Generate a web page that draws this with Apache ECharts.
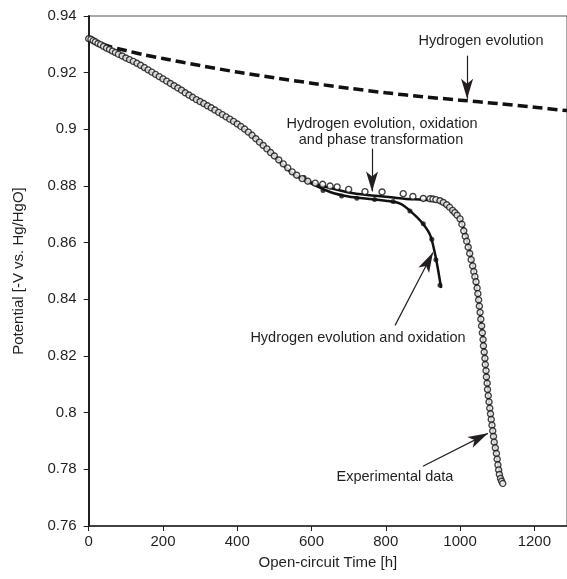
<!DOCTYPE html>
<html><head><meta charset="utf-8">
<script src="https://cdn.jsdelivr.net/npm/echarts@6/dist/echarts.min.js"></script>
<style>html,body{margin:0;padding:0;background:#fff}#c{width:567px;height:579px}</style>
</head><body><div id="c"></div>
<script>
// Hydrogen evolution model (dashed)
const hydT = [0, 50, 100, 150, 200, 300, 400, 500, 600, 700, 800, 900, 1000, 1100, 1200, 1288];
const hydV = [0.932, 0.9295, 0.9278, 0.9263, 0.9250, 0.9225, 0.9202, 0.9182, 0.9163, 0.9145, 0.9129, 0.9115, 0.9103, 0.9091, 0.9078, 0.9066];
// Model: hydrogen evolution, oxidation and phase transformation (solid)
const modAT = [0, 100, 200, 300, 400, 450, 500, 550, 600, 650, 700, 750, 800, 850, 900, 940, 960, 980, 1000, 1020, 1040, 1060, 1080, 1100, 1115];
const modAV = [0.932, 0.9252, 0.9178, 0.9098, 0.9019, 0.8967, 0.8906, 0.8844, 0.8812, 0.8793, 0.8777, 0.8768, 0.8762, 0.8755, 0.8751, 0.8746, 0.8732, 0.8712, 0.8684, 0.8600, 0.8480, 0.8282, 0.8016, 0.7836, 0.7750];
// Model: hydrogen evolution and oxidation (solid with filled dots)
const modBT = [0, 100, 200, 300, 400, 450, 500, 550, 600, 650, 700, 750, 800, 840, 870, 900, 920, 935, 949];
const modBV = [0.932, 0.9252, 0.9178, 0.9098, 0.9019, 0.8967, 0.8906, 0.8844, 0.8808, 0.8779, 0.8763, 0.8755, 0.8748, 0.8737, 0.8707, 0.8667, 0.8625, 0.8545, 0.8440];
const dotT = [580, 631, 681, 722, 770, 820, 865, 901, 924, 935, 946];
const dotV = [0.8830, 0.8784, 0.8765, 0.8757, 0.8752, 0.8745, 0.8712, 0.8667, 0.8612, 0.8540, 0.8450];
// Experimental data (open circles)
const expT = [0, 6, 12, 18, 25, 32, 40, 48, 56, 64, 72, 80, 90, 100, 110, 120, 130, 140, 150, 160, 170, 180, 190, 200,
  210, 220, 230, 240, 250, 260, 270, 280, 290, 300, 310, 320, 330, 340, 350, 360, 370, 380, 390, 400, 410, 420,
  430, 440, 450, 460, 470, 480, 490, 500, 512, 524, 536, 548, 560, 575, 590, 610, 630, 650, 669, 700, 744, 790, 847, 873, 901, 919, 927, 935, 946,
  955, 964, 972, 980, 986, 992, 1000, 1005, 1010, 1014, 1018, 1022, 1026, 1030, 1034, 1037, 1040, 1043, 1046, 1048, 1050,
  1052, 1054, 1056, 1058, 1060, 1062, 1063, 1065, 1067, 1068, 1070, 1071, 1073, 1074, 1076, 1078, 1080, 1082, 1084, 1086,
  1088, 1090, 1092, 1095, 1098, 1100, 1102, 1104, 1106, 1109, 1112, 1115];
const expV = [0.9320, 0.9318, 0.9313, 0.9309, 0.9303, 0.9299, 0.9293, 0.9287, 0.9282, 0.9276, 0.9271, 0.9265, 0.9259, 0.9252, 0.9246, 0.9240, 0.9233, 0.9226, 0.9218, 0.9210, 0.9202, 0.9194, 0.9186, 0.9178,
  0.9170, 0.9162, 0.9154, 0.9146, 0.9138, 0.9129, 0.9121, 0.9113, 0.9105, 0.9098, 0.9091, 0.9083, 0.9076, 0.9068, 0.9060, 0.9052, 0.9044, 0.9036, 0.9028, 0.9019, 0.9010, 0.9001,
  0.8990, 0.8979, 0.8967, 0.8955, 0.8943, 0.8931, 0.8918, 0.8906, 0.8892, 0.8878, 0.8864, 0.8850, 0.8838, 0.8826, 0.8817, 0.8810, 0.8806, 0.8800, 0.8797, 0.8788, 0.8780, 0.8779, 0.8773, 0.8763, 0.8756, 0.8755, 0.8754, 0.8752, 0.8748,
  0.8742, 0.8734, 0.8725, 0.8714, 0.8706, 0.8697, 0.8684, 0.8665, 0.8642, 0.8622, 0.8605, 0.8584, 0.8562, 0.8540, 0.8518, 0.8498, 0.8480, 0.8462, 0.8440, 0.8420, 0.8398,
  0.8376, 0.8354, 0.8330, 0.8306, 0.8282, 0.8258, 0.8236, 0.8214, 0.8192, 0.8170, 0.8148, 0.8126, 0.8104, 0.8082, 0.8060, 0.8038, 0.8016, 0.7996, 0.7976, 0.7956,
  0.7936, 0.7916, 0.7896, 0.7876, 0.7856, 0.7836, 0.7816, 0.7798, 0.7782, 0.7768, 0.7758, 0.7750];
// Axis settings
const xMin = 0, xMax = 1288, xStep = 200;
const yMin = 0.76, yMax = 0.94, yStep = 0.02;
// Annotation arrows [t1, v1, t2, v2] (tail -> head) in data units
const arrows = [
  [1019, 0.9260, 1019, 0.9108],
  [763, 0.8932, 763, 0.8781],
  [825, 0.8308, 927, 0.8565],
  [900, 0.7811, 1075, 0.7927]
];

const INK = '#231f20';
const FONT = '"Liberation Sans", Arial, sans-serif';
const zip = (a, b) => a.map((v, i) => [v, b[i]]);

const chart = echarts.init(document.getElementById('c'), null, {renderer: 'canvas'});
chart.setOption({
  animation: false,
  backgroundColor: '#fff',
  textStyle: {fontFamily: FONT, color: INK},
  grid: {left: 88.7, right: 0, top: 16, bottom: 53, show: true, borderColor: '#555', borderWidth: 1, backgroundColor: 'transparent'},
  xAxis: {
    type: 'value', min: xMin, max: xMax, interval: xStep,
    name: 'Open-circuit Time [h]', nameLocation: 'middle', nameGap: 29,
    nameTextStyle: {fontSize: 15, color: INK, fontFamily: FONT},
    axisLine: {show: true, onZero: false, lineStyle: {color: INK, width: 1.5}},
    axisTick: {show: true, inside: false, length: 5, lineStyle: {color: INK}},
    axisLabel: {fontSize: 15, color: INK, margin: 8, fontFamily: FONT, showMaxLabel: false,
      formatter: v => (Math.abs(v % xStep) < 1e-6 ? String(v) : '')},
    splitLine: {show: false}
  },
  yAxis: {
    type: 'value', min: yMin, max: yMax, interval: yStep,
    name: 'Potential [-V vs. Hg/HgO]', nameLocation: 'middle', nameGap: 62,
    nameTextStyle: {fontSize: 15, color: INK, fontFamily: FONT},
    axisLine: {show: true, onZero: false, lineStyle: {color: INK, width: 2}},
    axisTick: {show: true, inside: false, length: 5, lineStyle: {color: INK}},
    axisLabel: {fontSize: 15, color: INK, margin: 12, fontFamily: FONT,
      formatter: v => String(parseFloat(v.toFixed(2)))},
    splitLine: {show: false}
  },
  graphic: [
    {type: 'text', style: {text: 'Hydrogen evolution', x: 481, y: 41, align: 'center', verticalAlign: 'middle', font: '14.5px ' + FONT, fill: INK}},
    {type: 'text', style: {text: 'Hydrogen evolution, oxidation', x: 382, y: 124, align: 'center', verticalAlign: 'middle', font: '14.5px ' + FONT, fill: INK}},
    {type: 'text', style: {text: 'and phase transformation', x: 381, y: 140, align: 'center', verticalAlign: 'middle', font: '14.5px ' + FONT, fill: INK}},
    {type: 'text', style: {text: 'Hydrogen evolution and oxidation', x: 358, y: 338, align: 'center', verticalAlign: 'middle', font: '14.5px ' + FONT, fill: INK}},
    {type: 'text', style: {text: 'Experimental data', x: 395, y: 477, align: 'center', verticalAlign: 'middle', font: '14.5px ' + FONT, fill: INK}}
  ],
  series: [
    {name: 'Hydrogen evolution', type: 'line', data: zip(hydT, hydV), smooth: 0.3, showSymbol: false, symbol: 'none',
      lineStyle: {color: '#111', width: 3.5, type: [10, 5]}, z: 2,
      markLine: {silent: true, symbol: ['none', 'arrow'], symbolSize: [9, 20], label: {show: false},
        itemStyle: {color: '#111'},
        lineStyle: {color: INK, width: 1.2, type: 'solid'},
        data: arrows.map(a => [{coord: [a[0], a[1]]}, {coord: [a[2], a[3]]}])}
    },
    {name: 'HE + oxidation', type: 'line', data: zip(modBT, modBV), smooth: 0.3, showSymbol: false, symbol: 'none',
      lineStyle: {color: '#111', width: 2.5}, z: 3},
    {name: 'HE + oxidation dots', type: 'scatter', data: zip(dotT, dotV), symbol: 'circle', symbolSize: 5,
      itemStyle: {color: '#111'}, z: 4},
    {name: 'HE + oxidation + phase', type: 'line', data: zip(modAT, modAV), smooth: 0.3, showSymbol: false, symbol: 'none',
      lineStyle: {color: '#111', width: 2.5}, z: 3},
    {name: 'Experimental', type: 'scatter', data: zip(expT, expV), symbol: 'circle', symbolSize: 6,
      itemStyle: {color: '#fff', borderColor: '#111', borderWidth: 1.4}, z: 5}
  ]
});
</script></body></html>
